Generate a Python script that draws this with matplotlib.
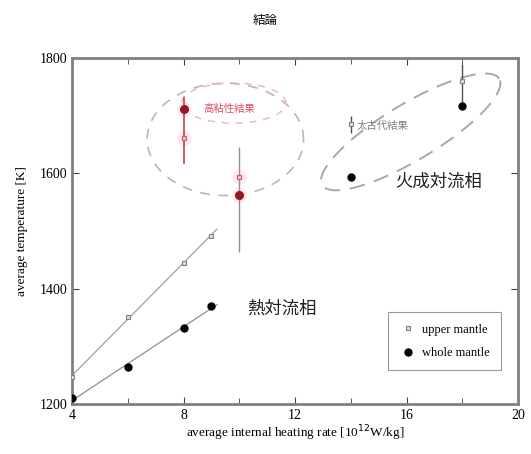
import matplotlib.pyplot as plt
import numpy as np

plt.rcParams['font.family'] = ['Liberation Serif', 'Noto Sans CJK JP']
CJK = ['Noto Sans CJK JP', 'DejaVu Sans']

# thermal convection regime (lines fitted through these)
heat = [4, 6, 8, 9]
upper_T = [1247, 1351, 1445, 1492]
whole_T = [1210, 1264, 1332, 1370]

# high viscosity results (red)
hv_heat = [8, 10]
hv_upper = [1661, 1593]
hv_whole = [1711, 1563]
hv_lo = [1616, 1464]
hv_hi = [1732, 1645]

# archean results (gray)
ar_heat = [14, 18]
ar_upper = [1685, 1760]
ar_whole = [1593, 1717]
ar_lo = [1670, 1717]
ar_hi = [1700, 1790]

fig = plt.figure(figsize=(5.31, 4.54), dpi=100)
ax = fig.add_axes([0.1356, 0.110, 0.84, 0.762])
ax.set_xlim(4, 20)
ax.set_ylim(1200, 1800)

# fitted lines
for T, c in [(upper_T, '#a0a0a0'), (whole_T, '#909090')]:
    p = np.polyfit(heat, T, 1)
    xx = np.array([3.9, 9.2])
    ax.plot(xx, np.polyval(p, xx), color=c, lw=0.9, zorder=2)

# error bars
ax.vlines(hv_heat[0], hv_lo[0], hv_hi[0], color='#c04050', lw=1.2, zorder=3)
ax.vlines(hv_heat[1], hv_lo[1], hv_hi[1], color='#909090', lw=1.0, zorder=3)
ax.vlines(ar_heat, ar_lo, ar_hi, color='#505050', lw=1.0, zorder=3)

# faint pink glow around red points
ax.scatter(hv_heat, hv_upper, s=110, color='#ffe8ea', zorder=2, lw=0)
ax.scatter(hv_heat, hv_whole, s=110, color='#ffe8ea', zorder=2, lw=0)

ax.plot(heat, upper_T, 's', ms=3.5, mfc='#e0e0e0', mec='#808080', mew=0.8, ls='none',
        zorder=4, label='upper mantle')
ax.plot(heat, whole_T, 'o', ms=5, color='black', ls='none', zorder=4,
        label='whole mantle')
ax.plot(hv_heat, hv_upper, 's', ms=3.5, mfc='#f0c0c8', mec='#c06070', mew=0.8, ls='none', zorder=4)
ax.plot(hv_heat, hv_whole, 'o', ms=5.5, color='#901828', ls='none', zorder=4)
ax.plot(ar_heat, ar_upper, 's', ms=3.5, mfc='#e0e0e0', mec='#808080', mew=0.8, ls='none', zorder=4)
ax.plot(ar_heat, ar_whole, 'o', ms=5, color='black', ls='none', zorder=4)

# ellipses (built in pixel-like units, then mapped to data)
px_x = 27.8
px_y = 0.575
t = np.linspace(0, 2 * np.pi, 200)


def ellipse(cx, cy, a, b, ang, **kw):
    r = np.deg2rad(ang)
    u = a * np.cos(t) * np.cos(r) - b * np.sin(t) * np.sin(r)
    v = a * np.cos(t) * np.sin(r) + b * np.sin(t) * np.cos(r)
    ax.plot(cx + u / px_x, cy + v / px_y, **kw)


ellipse(9.5, 1659, 78, 56, 0, color='#b8b8b8', ls=(0, (6, 5)), lw=1.2, zorder=1)
ellipse(9.8, 1722, 52, 20, 0, color='#f4b0b8', ls=(0, (5, 5)), lw=1.0, zorder=1)
ellipse(16.15, 1672, 103, 28, 31, color='#a8a8a8', ls=(0, (8, 5)), lw=1.4, zorder=1)

ax.text(8.7, 1711, '高粘性結果', family=CJK, fontsize=7.5, color='#e05060', va='center')
ax.text(14.2, 1683, '太古代結果', family=CJK, fontsize=7.5, color='#808080', va='center')
ax.text(15.6, 1586, '火成対流相', family=CJK, fontsize=12.5, color='#202020', va='center')
ax.text(10.3, 1365, '熱対流相', family=CJK, fontsize=12.5, color='#202020', va='center')

ax.set_xticks([4, 8, 12, 16, 20])
ax.set_xticks([6, 10, 14, 18], minor=True)
ax.set_yticks([1200, 1400, 1600, 1800])
ax.tick_params(which='both', direction='in', top=True, right=True, labelsize=10,
               color='#404040')
ax.tick_params(which='major', length=5)
ax.tick_params(which='minor', length=4)
for s in ax.spines.values():
    s.set_color('#808080')
    s.set_linewidth(2)

ax.set_xlabel('average internal heating rate [10$^{12}$W/kg]', fontsize=9.5, labelpad=1)
ax.set_ylabel('average temperature [K]', fontsize=9.5, labelpad=8)
fig.text(0.5, 0.955, '結論', family=CJK, fontsize=9, ha='center', va='center')

leg = ax.legend(loc='lower right', bbox_to_anchor=(0.975, 0.08), fontsize=9,
                fancybox=False, edgecolor='#808080', handletextpad=0.4,
                handlelength=1.4, borderpad=0.9, labelspacing=0.9)
leg.get_frame().set_linewidth(0.8)

fig.savefig('out.png', dpi=100)
